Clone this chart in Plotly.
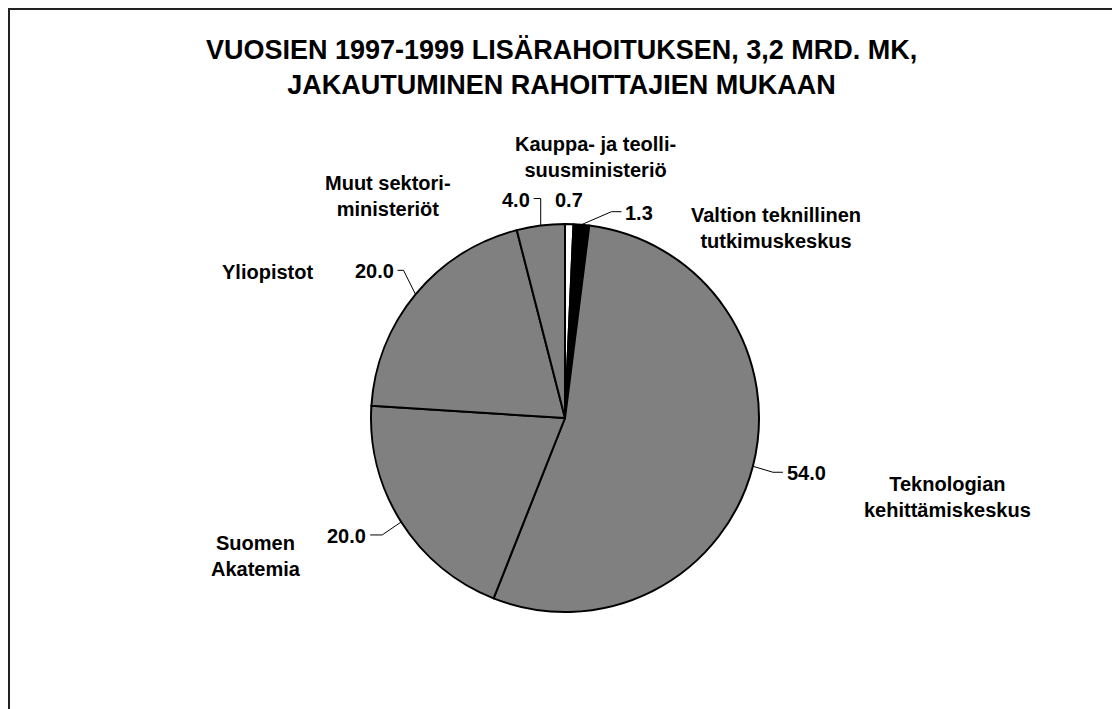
import math
import plotly.graph_objects as go

# ---- data ----
categories = [
    "Kauppa- ja teolli-<br>suusministeriö",
    "Valtion teknillinen<br>tutkimuskeskus",
    "Teknologian<br>kehittämiskeskus",
    "Suomen<br>Akatemia",
    "Yliopistot",
    "Muut sektori-<br>ministeriöt",
]
values = [0.7, 1.3, 54.0, 20.0, 20.0, 4.0]
value_labels = ["0.7", "1.3", "54.0", "20.0", "20.0", "4.0"]
title_text = "VUOSIEN 1997-1999 LISÄRAHOITUKSEN, 3,2 MRD. MK,<br>JAKAUTUMINEN RAHOITTAJIEN MUKAAN"

# ---- style ----
W, H = 1120, 709
OFF = 8  # page body margin: data coordinates below are page pixels
CX, CY, R = 565, 418, 194
slice_colors = ["#ffffff", "#000000", "#808080", "#808080", "#808080", "#808080"]
FONT = "Liberation Sans, Arial, sans-serif"
LBL = 20
# leader line styling per slice: (elbow dx, elbow dy, horizontal run)
leader = [None, (30, -13, 10), (20, 6, 10), (-19, 13, -12), (-12, -24, -6), (0, -27, -7)]
# category label centres (page pixels)
cat_pos = [(595, 157), (776, 228), (947, 497), (256, 556), (267, 272), (388, 196)]

fx, fy = CX - OFF, CY - OFF
fig = go.Figure()
fig.add_trace(go.Pie(
    values=values, labels=categories, sort=False, direction="clockwise", rotation=0,
    marker=dict(colors=slice_colors, line=dict(color="#000000", width=2)),
    textinfo="none", hoverinfo="skip", showlegend=False,
    domain=dict(x=[(fx - R) / W, (fx + R) / W], y=[(H - fy - R) / H, (H - fy + R) / H]),
))

annotations = []
shapes = []
total = sum(values)
cum = 0.0
for i, v in enumerate(values):
    mid = (cum + v / 2) / total * 2 * math.pi
    cum += v
    ax = CX + R * math.sin(mid)
    ay = CY - R * math.cos(mid)
    if leader[i] is None:
        annotations.append(dict(x=ax, y=ay - 24, text=value_labels[i], xref="x", yref="y",
                                showarrow=False, xanchor="center", yanchor="middle",
                                font=dict(family=FONT, size=LBL, color="#000", weight="bold")))
    else:
        ex, ey, run = leader[i]
        bx, by = ax + ex, ay + ey
        tx = bx + run
        shapes.append(dict(type="path", xref="x", yref="y",
                           path=f"M {ax},{ay} L {bx},{by} L {tx},{by}",
                           line=dict(color="#000", width=1)))
        annotations.append(dict(x=tx + (2 if run > 0 else -2), y=by + 1, text=value_labels[i],
                                xref="x", yref="y", showarrow=False,
                                xanchor="left" if run > 0 else "right", yanchor="middle",
                                font=dict(family=FONT, size=LBL, color="#000", weight="bold")))
    px, py = cat_pos[i]
    annotations.append(dict(x=px, y=py, text=categories[i], xref="x", yref="y",
                            showarrow=False, xanchor="center", yanchor="middle",
                            font=dict(family=FONT, size=LBL, color="#000", weight="bold")))

annotations.append(dict(x=561, y=67, text=title_text, xref="x", yref="y", showarrow=False,
                        xanchor="center", yanchor="middle",
                        font=dict(family=FONT, size=27, color="#000", weight="bold")))

# outer frame (at the very edge of the figure)
shapes.append(dict(type="rect", xref="x", yref="y", x0=OFF + 1, y0=OFF + 1, x1=W + 40, y1=H + 40,
                   line=dict(color="#222", width=2), fillcolor="rgba(0,0,0,0)"))

fig.update_layout(
    width=W, height=H, margin=dict(l=0, r=0, t=0, b=0),
    paper_bgcolor="#ffffff", plot_bgcolor="rgba(0,0,0,0)",
    xaxis=dict(range=[OFF, W + OFF], visible=False, fixedrange=True),
    yaxis=dict(range=[H + OFF, OFF], visible=False, fixedrange=True),
    annotations=annotations, shapes=shapes,
)
fig.write_html("out.html")
